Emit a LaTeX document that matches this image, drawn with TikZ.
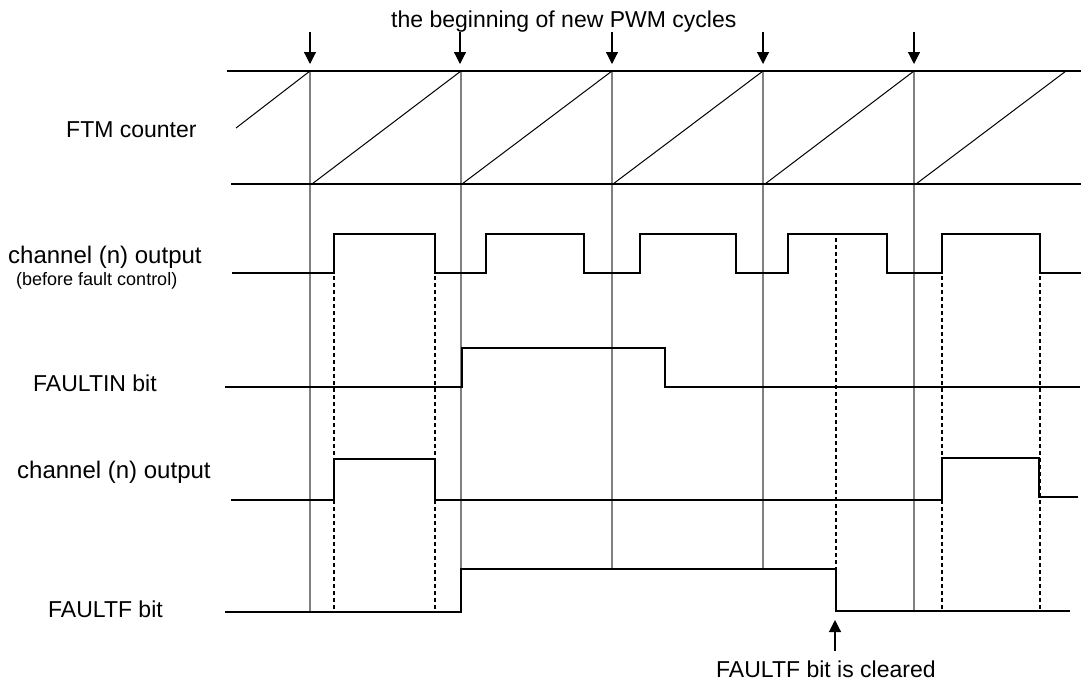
\documentclass[tikz,border=0pt]{standalone}
\usepackage{fontspec}
\setmainfont{Liberation Sans}
\usetikzlibrary{arrows.meta}
\tikzset{
  wave/.style={line width=2.7pt, line join=miter},
  rail/.style={line width=2.2pt},
  ramp/.style={line width=1pt},
  gridline/.style={line width=1.2pt, draw={rgb,255:red,128;green,128;blue,128}},
  dashline/.style={line width=1.2pt, dash pattern=on 4pt off 3pt},
  marker/.style={line width=1.2pt, -{Triangle[width=12pt,length=12pt]}},
  lbl/.style={anchor=base west, inner sep=0pt, font=\fontsize{23}{26}\selectfont},
  lblb/.style={anchor=base west, inner sep=0pt, font=\fontsize{24}{27}\selectfont},
  small/.style={anchor=base west, inner sep=0pt, font=\fontsize{18}{21}\selectfont}
}
\begin{document}
\begin{tikzpicture}[x=1pt,y=-1pt]
\useasboundingbox (0,0) rectangle (1081,681);
% labels
\node[lbl] (title) at (391,27) {the beginning of new PWM cycles};
\node[lbl] (ftm) at (66,137) {FTM counter};
\node[lblb] (ch1) at (8,263) {channel (n) output};
\node[small] (ch1b) at (16,285) {(before fault control)};
\node[lbl] (fin) at (33,391) {FAULTIN bit};
\node[lblb] (ch2) at (17,478) {channel (n) output};
\node[lbl] (ff) at (48,617) {FAULTF bit};
\node[lbl] (clr) at (716,677) {FAULTF bit is cleared};
% grid verticals
\draw[gridline] (310,71) -- (310,612);
\draw[gridline] (461,71) -- (461,569);
\draw[gridline] (612,71) -- (612,569);
\draw[gridline] (763,71) -- (763,569);
\draw[gridline] (914,71) -- (914,611);
% dashed verticals
\draw[dashline] (334,276) -- (334,612);
\draw[dashline] (435,276) -- (435,612);
\draw[dashline] (836,238) -- (836,611);
\draw[dashline] (942,276) -- (942,611);
\draw[dashline] (1040,276) -- (1040,611);
% counter rails
\draw[rail] (227,71) -- (1081,71);
\draw[rail] (231,184) -- (1081,184);
% ramps
\draw[ramp] (236,128) -- (310,71);
\draw[ramp] (312,184) -- (461,71);
\draw[ramp] (462,184) -- (612,71);
\draw[ramp] (613,184) -- (763,71);
\draw[ramp] (765,184) -- (914,71);
\draw[ramp] (916,184) -- (1066,71);
% waveforms
\draw[wave] (232,273) -- (334,273) -- (334,234) -- (435,234) -- (435,273) -- (486,273) -- (486,234) -- (584,234) -- (584,273) -- (640,273) -- (640,234) -- (736,234) -- (736,273) -- (788,273) -- (788,234) -- (887,234) -- (887,273) -- (942,273) -- (942,234) -- (1040,234) -- (1040,273) -- (1081,273);
\draw[wave] (225,387) -- (462,387) -- (462,348) -- (665,348) -- (665,387) -- (1080,387);
\draw[wave] (231,500) -- (334,500) -- (334,459) -- (435,459) -- (435,500) -- (942,500) -- (942,458) -- (1039,458) -- (1039,497) -- (1078,497);
\draw[wave] (225,612) -- (461,612) -- (461,569) -- (836,569) -- (836,611) -- (1070,611);
% arrows
\coordinate (a1s) at (310,32); \coordinate (a1e) at (310,64);
\coordinate (a2s) at (460,32); \coordinate (a2e) at (460,64);
\coordinate (a3s) at (612,32); \coordinate (a3e) at (612,64);
\coordinate (a4s) at (763,32); \coordinate (a4e) at (763,64);
\coordinate (a5s) at (914,32); \coordinate (a5e) at (914,64);
\draw[marker] (a1s) -- (a1e);
\draw[marker] (a2s) -- (a2e);
\draw[marker] (a3s) -- (a3e);
\draw[marker] (a4s) -- (a4e);
\draw[marker] (a5s) -- (a5e);
\coordinate (bs) at (835,651); \coordinate (be) at (835,620);
\draw[marker] (bs) -- (be);
\end{tikzpicture}
\end{document}
